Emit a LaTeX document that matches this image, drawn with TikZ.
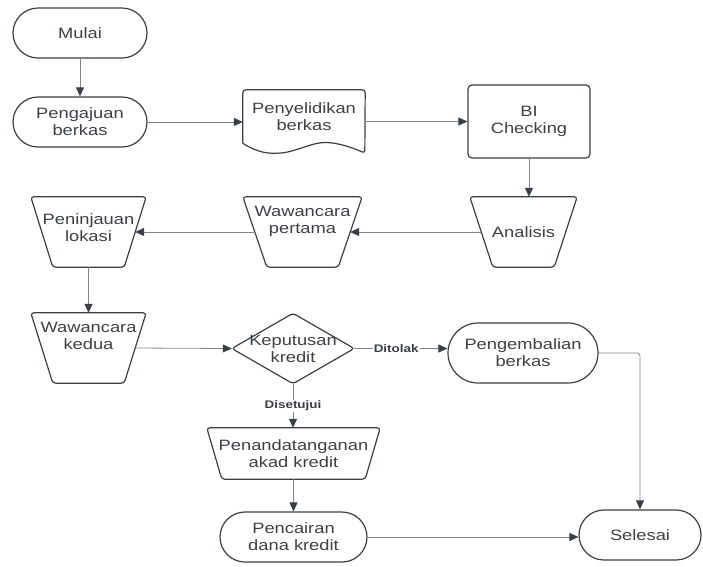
\documentclass[tikz,border=0pt]{standalone}
\usepackage{fontspec}
\setmainfont{Liberation Sans}[FakeStretch=1.22]
\usetikzlibrary{arrows.meta,calc}

\definecolor{garis}{HTML}{3A3F47}
\definecolor{panah}{HTML}{80858C}
\definecolor{teks}{HTML}{3C4046}

% trapezium (manual operation) round a named node, #2 = inset at the bottom
\newcommand{\trapmanual}[2]{%
	\draw[bentuk] (#1.north west) -- (#1.north east) -- ([xshift=-#2]#1.south east) -- ([xshift=#2]#1.south west) -- cycle;
	\coordinate (#1-l) at ([xshift=#2/2]#1.west);
	\coordinate (#1-r) at ([xshift=-#2/2]#1.east);
}

\begin{document}
\begin{tikzpicture}[x=1pt,y=-1pt,
	every node/.style={font=\fontsize{15}{17}\selectfont,text=teks,align=center},
	bentuk/.style={draw=garis,line width=1.2pt,rounded corners=3pt},
	terminal/.style={rectangle,draw=garis,line width=1.2pt,rounded corners=25pt,minimum height=50pt},
	proses/.style={rectangle,draw=garis,line width=1.2pt,rounded corners=4pt},
	kotak/.style={rectangle,draw=none},
	alur/.style={draw=panah,line width=0.8pt,-{Triangle[length=9pt,width=8pt,color=garis]}},
	ket/.style={font=\bfseries\fontsize{11}{12}\selectfont,text=garis,fill=white,inner sep=1pt}]

	\useasboundingbox (0,0) rectangle (703,566);

	\begin{scope}
		\node[terminal,minimum width=134pt] (mulai) at (80,33) {Mulai};
		\node[terminal,minimum width=134pt] (pengajuan) at (80,122) {Pengajuan\\berkas};
		\node[kotak,minimum width=122pt,minimum height=53pt] (selidik) at (304,116.5) {Penyelidikan\\berkas};
		\node[proses,minimum width=122pt,minimum height=73pt] (bi) at (529,121.5) {BI\\Checking};
		\node[kotak,minimum width=107pt,minimum height=70pt] (analisis) at (523.5,232) {Analisis};
		\node[kotak,minimum width=119pt,minimum height=70pt,text depth=24pt] (wawan1) at (302.5,232) {Wawancara\\pertama};
		\node[kotak,minimum width=115pt,minimum height=70pt,text depth=8pt] (tinjau) at (88.5,232) {Peninjauan\\lokasi};
		\node[kotak,minimum width=115pt,minimum height=70pt,text depth=24pt] (wawan2) at (88.5,348) {Wawancara\\kedua};
		\node[kotak,minimum width=122pt,minimum height=70pt] (putus) at (293,348.5) {Keputusan\\kredit};
		\node[terminal,rounded corners=30pt,minimum width=150pt,minimum height=60pt] (kembali) at (523,353) {Pengembalian\\berkas};
		\node[kotak,minimum width=173pt,minimum height=51pt] (akad) at (293.5,453.5) {Penandatanganan\\akad kredit};
		\node[terminal,minimum width=147pt] (cair) at (293.5,537) {Pencairan\\dana kredit};
		\node[terminal,minimum width=122pt] (selesai) at (640,535) {Selesai};
	\end{scope}

	% shapes drawn round the plain nodes
	\begin{scope}
		\draw[bentuk] (selidik.south west) -- (selidik.north west) -- (selidik.north east) -- ($(selidik.south west)+(122,10)$)
			.. controls ($(selidik.south west)+(107,3)$) and ($(selidik.south west)+(89,-2)$) .. ($(selidik.south west)+(75,0)$)
			.. controls ($(selidik.south west)+(62,3)$) and ($(selidik.south west)+(47,10)$) .. ($(selidik.south west)+(32,10)$)
			.. controls ($(selidik.south west)+(19,10)$) and ($(selidik.south west)+(7,5)$) .. (selidik.south west);
		\trapmanual{analisis}{23pt}
		\trapmanual{wawan1}{24pt}
		\trapmanual{tinjau}{22pt}
		\trapmanual{wawan2}{22pt}
		\trapmanual{akad}{15pt}
		\draw[bentuk] (putus.north) -- (putus.east) -- (putus.south) -- (putus.west) -- cycle;
	\end{scope}

	\begin{scope}
		\draw[alur] (mulai) -- (pengajuan);
		\draw[alur] (pengajuan.east) -- (selidik.west |- pengajuan.east);
		\draw[alur] (selidik.east |- bi.west) -- (bi.west);
		\draw[alur] (bi.south) -- (bi.south |- analisis.north);
		\draw[alur] (analisis-l) -- (wawan1-r);
		\draw[alur] (wawan1-l) -- (tinjau-r);
		\draw[alur] (tinjau) -- (wawan2);
		\draw[alur] (wawan2-r) -- (putus.west);
		\draw[alur] (putus.east) -- node[ket,pos=0.45] {Ditolak} (putus.east -| kembali.west);
		\draw[alur] (putus.south) -- node[ket] {Disetujui} (putus.south |- akad.north);
		\draw[alur] (akad.south) -- (akad.south |- cair.north);
		\draw[alur] (cair.east) -- (cair.east -| selesai.west);
		\draw[alur,rounded corners=3pt] (kembali.east) -| (selesai.north);
	\end{scope}
\end{tikzpicture}
\end{document}
